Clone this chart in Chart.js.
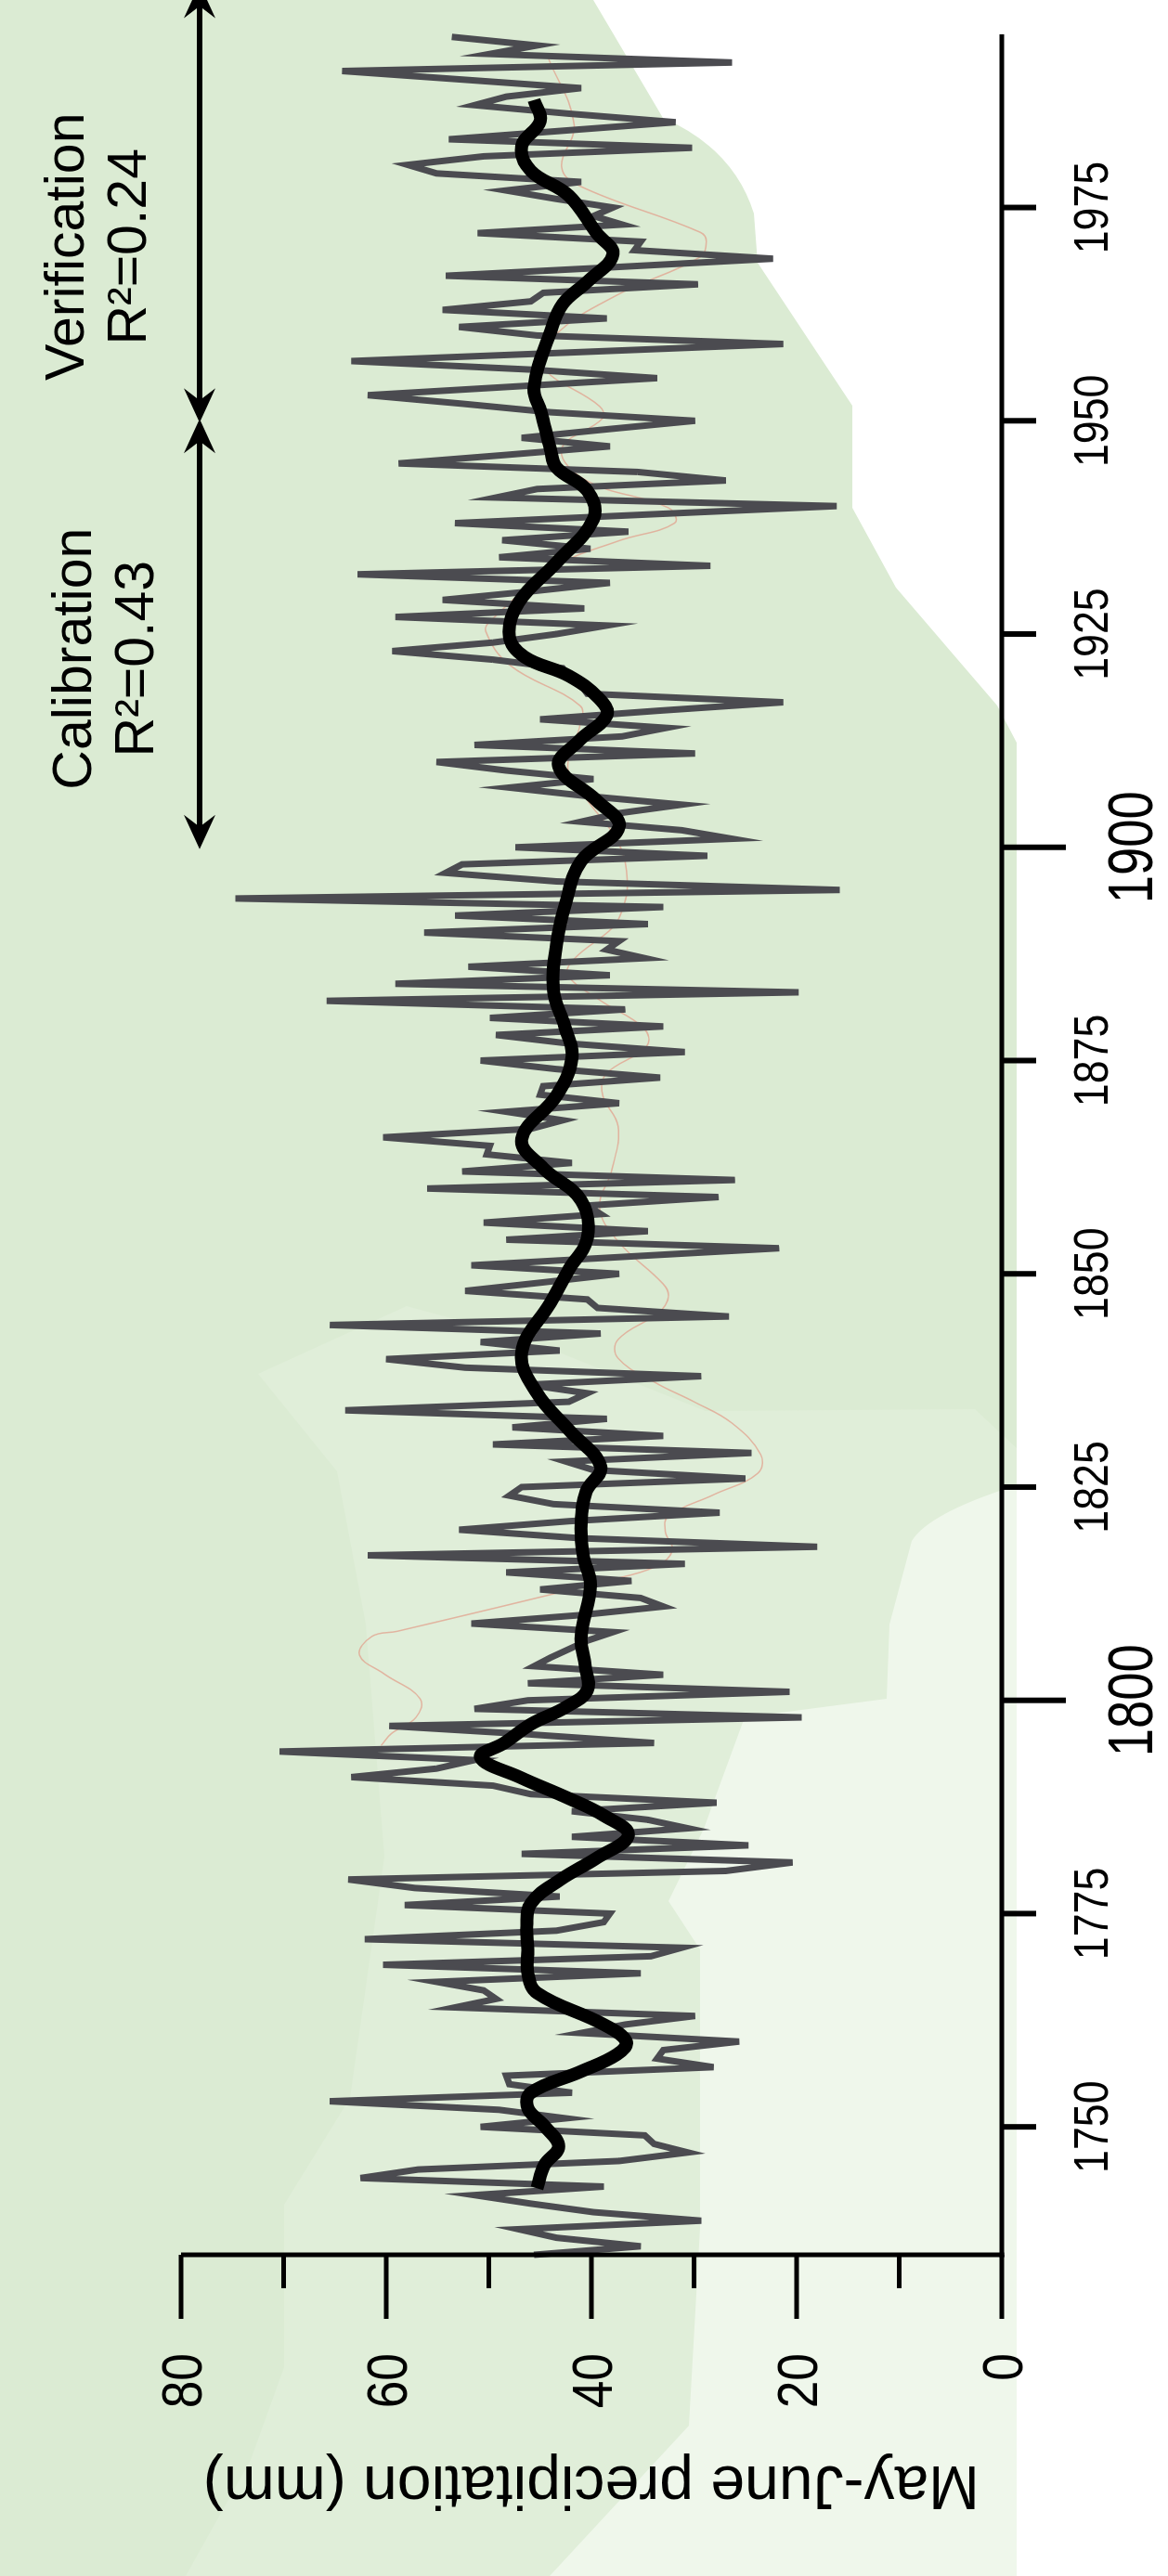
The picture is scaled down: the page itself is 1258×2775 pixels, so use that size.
<!DOCTYPE html>
<html>
<head>
<meta charset="utf-8">
<script src="https://cdn.jsdelivr.net/npm/chart.js@4.4.0/dist/chart.umd.min.js"></script>
<style>
html, body { margin: 0; padding: 0; width: 1258px; height: 2775px; overflow: hidden; background: #fff; }
#bg { position: absolute; left: 0; top: 0; }
#wrap { position: absolute; left: 0; top: 0; width: 2775px; height: 1258px; transform-origin: 0 0; transform: translateY(2775px) rotate(-90deg); }
</style>
</head>
<body>
<!-- map-like backdrop -->
<svg id="bg" width="1258" height="2775">
  <rect x="0" y="0" width="1258" height="2775" fill="#dbebd3"/>
  <path d="M278,1480 L438,1407 L560,1440 L760,1520 L1050,1518 L1095,1560 L1095,2775 L200,2775 L270,2650 L306,2550 L306,2375 L377,2260 L414,2000 L394,1750 L363,1585 Z" fill="#e0eed9"/>
  <path d="M1095,1600 Q1000,1630 982,1660 L958,1750 L955,1830 L802,1850 L758,1970 L720,2048 L754,2100 L754,2400 L742,2613 L592,2775 L1095,2775 Z" fill="#eff7eb"/>
  <path d="M639,0 L714,127 Q790,160 812,230 L816,283 L918,437 L918,547 L965,633 L1074,760 L1095,800 L1095,2775 L1258,2775 L1258,0 Z" fill="#ffffff"/>
</svg>
<div id="wrap"><canvas id="graph_canvas" width="2775" height="1258"></canvas></div>
<script>
const FIRST_YEAR = 1735;
const X_MIN = 1735;
const X_MAX = 1995.3;

// annual May-June precipitation (mm), 1735..1995
const PRECIP = [
    45.6, 35.2, 43.4, 47.1, 29.3, 39.8, 45.9, 51.4, 38.8, 62.5,
    56.9, 37.3, 30.6, 33.9, 34.8, 50.8, 42.5, 49.0, 65.5, 41.9,
    48.0, 48.3, 28.1, 33.6, 33.0, 25.6, 41.0, 36.7, 29.9, 53.3,
    49.3, 50.5, 55.1, 35.2, 60.3, 34.2, 31.2, 62.1, 43.4, 38.8,
    38.2, 58.2, 43.1, 57.2, 63.7, 26.9, 20.4, 46.8, 24.7, 41.9,
    30.6, 34.5, 41.9, 27.8, 45.9, 49.6, 63.4, 55.1, 51.4, 70.4,
    33.9, 45.9, 59.7, 19.5, 51.4, 46.2, 20.7, 46.2, 33.0, 45.6,
    44.0, 42.2, 40.4, 37.9, 51.7, 41.0, 33.0, 35.2, 45.0, 36.1,
    48.3, 30.9, 61.8, 18.0, 41.0, 52.9, 42.2, 27.5, 43.7, 48.0,
    46.8, 25.0, 39.8, 42.5, 24.4, 49.6, 33.0, 47.7, 38.5, 64.0,
    42.2, 40.4, 46.2, 29.3, 52.3, 60.0, 43.1, 50.8, 39.1, 65.5,
    26.6, 39.4, 40.4, 52.3, 44.7, 37.3, 51.7, 36.7, 21.7, 48.3,
    34.5, 50.5, 39.1, 40.4, 27.6, 56.0, 26.0, 52.6, 41.9, 50.2,
    49.9, 60.3, 45.9, 42.8, 48.3, 37.3, 45.0, 44.7, 33.3, 43.4,
    50.8, 30.9, 42.2, 49.3, 33.0, 49.9, 36.7, 65.8, 19.8, 59.1,
    38.2, 52.0, 34.8, 38.5, 37.3, 56.3, 34.5, 53.3, 33.0, 74.7,
    15.8, 43.4, 54.2, 52.6, 28.7, 47.4, 26.3, 31.2, 41.0, 37.3,
    31.2, 40.4, 48.0, 39.8, 48.3, 55.1, 29.9, 51.4, 37.0, 32.7,
    45.0, 33.6, 21.3, 40.4, 41.0, 42.2, 42.8, 49.6, 59.4, 49.6,
    43.4, 38.5, 59.1, 40.7, 54.5, 45.9, 38.2, 62.8, 28.4, 49.0,
    40.1, 48.7, 36.4, 53.3, 34.8, 16.1, 49.3, 45.3, 26.9, 35.5,
    58.8, 48.3, 38.2, 46.8, 38.5, 29.9, 44.0, 52.6, 61.8, 47.7,
    33.6, 45.9, 63.4, 42.2, 21.3, 45.3, 52.9, 38.5, 54.5, 45.9,
    44.7, 29.6, 54.2, 37.9, 22.3, 35.8, 35.2, 51.1, 37.0, 39.8,
    37.9, 43.4, 48.3, 41.0, 55.1, 57.9, 50.5, 30.2, 53.9, 42.8,
    31.8, 42.2, 51.4, 48.3, 41.0, 52.6, 64.3, 26.3, 49.9, 45.3,
    53.6
];

// smoothed curve
const SMOOTH_YEARS = [1742.8, 1745.5, 1747.7, 1750, 1752.2, 1754, 1756.5, 1758.5, 1760, 1762,
    1765.7, 1768, 1770.8, 1773.5, 1776.2, 1779, 1781.5, 1784.2, 1786.5, 1788.5,
    1791, 1793.3, 1795, 1797.2, 1799.2, 1801.2, 1804, 1807.5, 1813.5, 1817,
    1820.8, 1824.5, 1827.4, 1831.7, 1836, 1840.8, 1846.6, 1850.5, 1854.2, 1858.6,
    1862.4, 1865.8, 1870.9, 1875.3, 1879, 1883.2, 1888.6, 1893.5, 1898.4, 1902.4,
    1905.5, 1909.5, 1912.5, 1915.5, 1917.5, 1920.1, 1922.3, 1924.7, 1928.7, 1933.4,
    1938.5, 1941.8, 1944.5, 1946.7, 1951, 1953.9, 1960.4, 1963.7, 1966.3, 1969.5,
    1972, 1976.4, 1979.3, 1982.2, 1985.1, 1987.6];
const SMOOTH_VALUES = [45.3, 44.6, 43.2, 44.5, 46.2, 45.9, 41.0, 37.5, 36.6, 38.8,
    45.3, 46.2, 46.2, 46.3, 45.9, 43.0, 39.5, 36.4, 38.8, 42.2,
    47.0, 50.8, 48.5, 45.9, 42.5, 40.4, 40.6, 41.0, 40.1, 40.8,
    41.0, 40.5, 39.1, 42.2, 45.3, 46.8, 44.0, 42.2, 40.4, 41.0,
    44.7, 46.8, 43.4, 41.9, 42.6, 43.7, 43.4, 42.5, 41.0, 37.3,
    39.5, 43.2, 41.2, 38.5, 39.3, 42.2, 46.5, 48.0, 47.1, 43.4,
    39.8, 40.4, 43.4, 44.0, 44.9, 45.6, 44.0, 42.8, 40.4, 37.9,
    39.5, 42.2, 45.9, 46.8, 45.0, 45.6];

// faint thin trace behind the series
const TRACE_YEARS = [1794.7, 1796.1, 1798.0, 1800.2, 1803.1, 1805.3, 1807.5, 1808.1, 1814.0, 1815.7,
    1817.6, 1819.8, 1821.6, 1824.1, 1826.6, 1828.8, 1832.5, 1835.0, 1837.2, 1840.1,
    1842.3, 1845.5, 1847.3, 1848.8, 1853.8, 1857.8, 1862.2, 1867.3, 1870.9, 1873.4,
    1876.7, 1878.8, 1882.1, 1885.0, 1886.9, 1890.5, 1892.3, 1895.9, 1900.6, 1905.7,
    1909.3, 1914.4, 1916.6, 1921.3, 1925.3, 1926.7, 1932.9, 1935.9, 1938.0, 1939.8,
    1943.0, 1946.7, 1950.3, 1951.7, 1956.5, 1960.1, 1964.8, 1969.2, 1971.0, 1972.1,
    1977.5, 1979.7, 1984.8, 1992.5];
const TRACE_VALUES = [60.5, 59.5, 57.1, 56.7, 60.2, 62.6, 61.4, 58.9, 38.6, 33.7,
    32.1, 32.8, 32.5, 28.1, 23.8, 23.5, 26.3, 30.0, 33.7, 37.4,
    37.4, 33.4, 32.5, 33.0, 37.4, 39.2, 38.0, 37.4, 38.9, 38.6,
    34.6, 34.9, 39.2, 42.3, 41.7, 38.0, 37.1, 36.5, 37.4, 40.5,
    42.3, 41.1, 41.1, 47.9, 50.3, 49.7, 43.5, 37.4, 31.9, 32.5,
    40.5, 42.9, 38.9, 39.2, 44.8, 43.5, 37.4, 29.4, 28.8, 29.4,
    41.1, 42.9, 41.7, 44.2];

const Y_TICKS = [0, 10, 20, 30, 40, 50, 60, 70, 80];
const Y_LABELS = [0, 20, 40, 60, 80];
const X_TICKS = [1750, 1775, 1800, 1825, 1850, 1875, 1900, 1925, 1950, 1975];
const X_MAJOR = [1800, 1900];

const CALIBRATION = [1900, 1950];
const VERIFICATION = [1950, 2001];

const FONT = "'Liberation Sans', Arial, sans-serif";

function line(ctx, ax, ay, bx, by) {
    ctx.beginPath();
    ctx.moveTo(ax, ay);
    ctx.lineTo(bx, by);
    ctx.stroke();
}

// stealth style arrow head pointing along dir (+1 / -1) on x
function arrowHead(ctx, tipX, y, dir) {
    ctx.beginPath();
    ctx.moveTo(tipX, y);
    ctx.lineTo(tipX - dir * 37, y - 17);
    ctx.lineTo(tipX - dir * 24, y);
    ctx.lineTo(tipX - dir * 37, y + 17);
    ctx.closePath();
    ctx.fill();
}

function periodArrow(ctx, xs, period, y) {
    var a = xs.getPixelForValue(period[0]) - 2;
    var b = xs.getPixelForValue(period[1]) + 2;
    ctx.lineWidth = 6;
    line(ctx, a + 20, y, b - 20, y);
    arrowHead(ctx, a, y, -1);
    arrowHead(ctx, b, y, 1);
}

function label(ctx, text, x, y, size, align, sx) {
    ctx.save();
    ctx.translate(x, y);
    ctx.scale(sx, 1);
    ctx.font = size + 'px ' + FONT;
    ctx.textAlign = align;
    ctx.textBaseline = 'alphabetic';
    ctx.fillText(text, 0, 0);
    ctx.restore();
}

// axes, ticks, titles and the period arrows
const axesPlugin = {
    id: 'axesPlugin',
    afterDraw(chart) {
        const ctx = chart.ctx;
        const xs = chart.scales.x, ys = chart.scales.y;
        const left = xs.getPixelForValue(X_MIN);
        const right = xs.getPixelForValue(X_MAX);
        const zero = ys.getPixelForValue(0);
        const top = ys.getPixelForValue(80);

        ctx.save();
        ctx.strokeStyle = '#000';
        ctx.fillStyle = '#000';
        ctx.lineCap = 'butt';

        ctx.lineWidth = 5;
        line(ctx, left, top, left, zero + 2.5);
        line(ctx, left - 2.5, zero, right, zero);

        // precipitation axis
        Y_TICKS.forEach(v => {
            var py = ys.getPixelForValue(v);
            var len = (v % 20 === 0) ? 69 : 36;
            line(ctx, left, py, left - len, py);
        });
        Y_LABELS.forEach(v => {
            var py = ys.getPixelForValue(v);
            label(ctx, String(v), left - 106, py + 22, 62, 'right', 0.86);
        });

        // year axis
        ctx.lineWidth = 6;
        X_TICKS.forEach(yr => {
            var px = xs.getPixelForValue(yr);
            var major = X_MAJOR.includes(yr);
            line(ctx, px, zero, px, zero + (major ? 69 : 37));
            if (major)
                label(ctx, String(yr), px, zero + 162, 68, 'center', 0.8);
            else
                label(ctx, String(yr), px, zero + 114, 52, 'center', 0.86);
        });

        // axis title
        ctx.save();
        ctx.translate(118, ys.getPixelForValue(40));
        ctx.rotate(-Math.PI / 2);
        ctx.font = '66px ' + FONT;
        ctx.textAlign = 'center';
        ctx.textBaseline = 'alphabetic';
        ctx.fillText('May-June precipitation (mm)', 0, 0);
        ctx.restore();

        // calibration / verification
        periodArrow(ctx, xs, CALIBRATION, 215);
        periodArrow(ctx, xs, VERIFICATION, 215);
        label(ctx, 'Calibration', xs.getPixelForValue(1922.1), 98, 59, 'center', 1);
        label(ctx, 'R\u00B2=0.43', xs.getPixelForValue(1922.1), 165, 59, 'center', 1);
        label(ctx, 'Verification', xs.getPixelForValue(1970.4), 90, 59, 'center', 1);
        label(ctx, 'R\u00B2=0.24', xs.getPixelForValue(1970.4), 157, 59, 'center', 1);

        ctx.restore();
    }
};

var annual = PRECIP.map((v, i) => ({ x: FIRST_YEAR + i, y: v }));
var smooth = SMOOTH_YEARS.map((yr, i) => ({ x: yr, y: SMOOTH_VALUES[i] }));
var trace = TRACE_YEARS.map((yr, i) => ({ x: yr, y: TRACE_VALUES[i] }));

var graph = new Chart(document.getElementById('graph_canvas'), {
    type: 'line',
    data: {
        datasets: [{
            label: 'Smoothed',
            data: smooth,
            borderColor: '#000000',
            borderWidth: 14,
            tension: 0.4,
            pointRadius: 0,
            fill: false,
            clip: false,
            borderCapStyle: 'butt'
        }, {
            label: 'Reconstruction',
            data: annual,
            borderColor: '#4b4b50',
            borderWidth: 7,
            tension: 0,
            pointRadius: 0,
            fill: false,
            clip: false,
            borderJoinStyle: 'miter'
        }, {
            label: 'Trace',
            data: trace,
            borderColor: 'rgba(226, 160, 140, 0.75)',
            borderWidth: 1.5,
            tension: 0.4,
            pointRadius: 0,
            fill: false,
            clip: false
        }]
    },
    options: {
        responsive: false,
        animation: false,
        devicePixelRatio: 1,
        events: [],
        layout: { padding: { left: 346, right: 37, top: 195, bottom: 179 } },
        scales: {
            x: { type: 'linear', min: X_MIN, max: X_MAX, display: false },
            y: { type: 'linear', min: 0, max: 80, display: false }
        },
        plugins: { legend: { display: false }, tooltip: { enabled: false } }
    },
    plugins: [axesPlugin]
});
</script>
</body>
</html>
